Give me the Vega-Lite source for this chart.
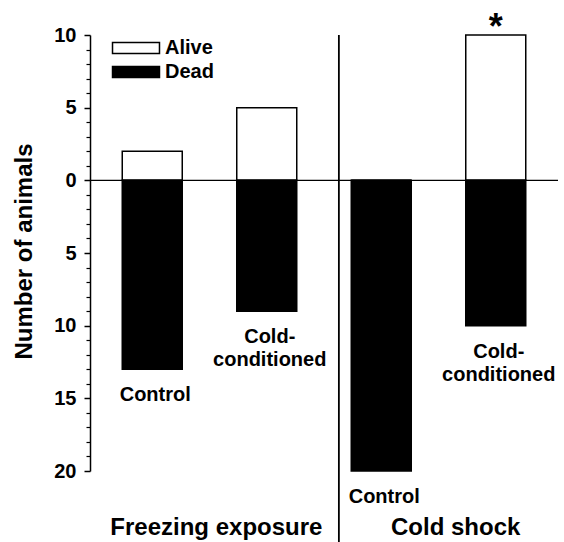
{
  "$schema": "https://vega.github.io/schema/vega-lite/v6.json",
  "width": 468,
  "height": 436,
  "autosize": "none",
  "padding": {"left": 90, "top": 35, "right": 6, "bottom": 71},
  "background": "white",
  "config": {
    "view": {"stroke": null},
    "font": "Liberation Sans",
    "text": {"font": "Liberation Sans", "fontWeight": "bold", "color": "black"}
  },
  "datasets": {
    "bars": [
      {"group": "Freezing exposure", "treatment": "Control", "status": "Alive", "pos": 0.5, "count": 2, "sig": ""},
      {"group": "Freezing exposure", "treatment": "Control", "status": "Dead", "pos": 0.5, "count": -13, "sig": ""},
      {"group": "Freezing exposure", "treatment": "Cold-\nconditioned", "status": "Alive", "pos": 1.5, "count": 5, "sig": ""},
      {"group": "Freezing exposure", "treatment": "Cold-\nconditioned", "status": "Dead", "pos": 1.5, "count": -9, "sig": ""},
      {"group": "Cold shock", "treatment": "Control", "status": "Alive", "pos": 2.5, "count": 0, "sig": ""},
      {"group": "Cold shock", "treatment": "Control", "status": "Dead", "pos": 2.5, "count": -20, "sig": ""},
      {"group": "Cold shock", "treatment": "Cold-\nconditioned", "status": "Alive", "pos": 3.5, "count": 10, "sig": "*"},
      {"group": "Cold shock", "treatment": "Cold-\nconditioned", "status": "Dead", "pos": 3.5, "count": -10, "sig": ""}
    ],
    "groups": [
      {"group": "Freezing exposure", "center": 1.06},
      {"group": "Cold shock", "center": 3.15}
    ],
    "divider": [{"at": 2.13, "top": 10, "bottom": -25}],
    "zero": [{"v": 0}]
  },
  "resolve": {"axis": {"y": "independent"}},
  "layer": [
    {
      "data": {"name": "bars"},
      "mark": {"type": "bar", "size": 60, "stroke": "black", "strokeWidth": 1.5},
      "encoding": {
        "x": {"field": "pos", "type": "quantitative", "scale": {"domain": [0, 4], "nice": false, "zero": false}, "axis": null},
        "y": {
          "field": "count", "type": "quantitative",
          "scale": {"domain": [-20, 10], "nice": false},
          "axis": {
            "orient": "left",
            "values": [-20, -15, -10, -5, 0, 5, 10],
            "labelExpr": "abs(datum.value)",
            "grid": false,
            "domainColor": "black", "domainWidth": 1.5,
            "tickColor": "black", "tickWidth": 1.5, "tickSize": 6,
            "labelFont": "Liberation Sans", "labelFontSize": 20, "labelFontWeight": "bold", "labelColor": "black",
            "labelPadding": 8,
            "title": "Number of animals",
            "titleFont": "Liberation Sans", "titleFontSize": 24, "titleFontWeight": "bold", "titleColor": "black",
            "titleAngle": 270, "titleBaseline": "middle", "titleX": -66, "titleY": 216, "titleAlign": "center"
          }
        },
        "fill": {
          "field": "status", "type": "nominal",
          "scale": {"domain": ["Alive", "Dead"], "range": ["white", "black"]},
          "legend": {
            "orient": "none", "legendX": 36, "legendY": 3,
            "title": null,
            "symbolType": "M-4.27,-1H4.27V1H-4.27Z",
            "symbolSize": 121,
            "symbolStrokeColor": "black", "symbolStrokeWidth": 1.5,
            "labelFont": "Liberation Sans", "labelFontSize": 20, "labelFontWeight": "bold", "labelColor": "black",
            "labelOffset": 19, "rowPadding": 4
          }
        }
      }
    },
    {
      "data": {"name": "zero"},
      "mark": {"type": "rule", "color": "black", "strokeWidth": 1.2},
      "encoding": {
        "y": {
          "field": "v", "type": "quantitative",
          "axis": {
            "orient": "left",
            "values": [-19, -18, -17, -16, -14, -13, -12, -11, -9, -8, -7, -6, -4, -3, -2, -1, 1, 2, 3, 4, 6, 7, 8, 9],
            "labels": false, "domain": false, "grid": false,
            "tickColor": "black", "tickWidth": 1.2, "tickSize": 4,
            "title": null
          }
        }
      }
    },
    {
      "data": {"name": "divider"},
      "mark": {"type": "rule", "color": "black", "strokeWidth": 1.8},
      "encoding": {
        "x": {"field": "at", "type": "quantitative"},
        "y": {"field": "top", "type": "quantitative", "axis": null},
        "y2": {"field": "bottom"}
      }
    },
    {
      "data": {"name": "bars"},
      "transform": [{"filter": "datum.status === 'Dead'"}],
      "mark": {"type": "text", "fontSize": 20, "baseline": "top", "align": "center", "dy": 16, "dx": 3, "lineBreak": "\n", "lineHeight": 23},
      "encoding": {
        "x": {"field": "pos", "type": "quantitative"},
        "y": {"field": "count", "type": "quantitative", "axis": null},
        "text": {"field": "treatment"}
      }
    },
    {
      "data": {"name": "bars"},
      "transform": [{"filter": "datum.sig !== ''"}],
      "mark": {"type": "text", "fontSize": 36, "baseline": "alphabetic", "align": "center", "dy": 4},
      "encoding": {
        "x": {"field": "pos", "type": "quantitative"},
        "y": {"field": "count", "type": "quantitative", "axis": null},
        "text": {"field": "sig"}
      }
    },
    {
      "data": {"name": "groups"},
      "mark": {"type": "text", "fontSize": 24, "baseline": "middle", "align": "center"},
      "encoding": {
        "x": {"field": "center", "type": "quantitative"},
        "y": {"datum": -23.95, "type": "quantitative", "axis": null},
        "text": {"field": "group"}
      }
    }
  ]
}
